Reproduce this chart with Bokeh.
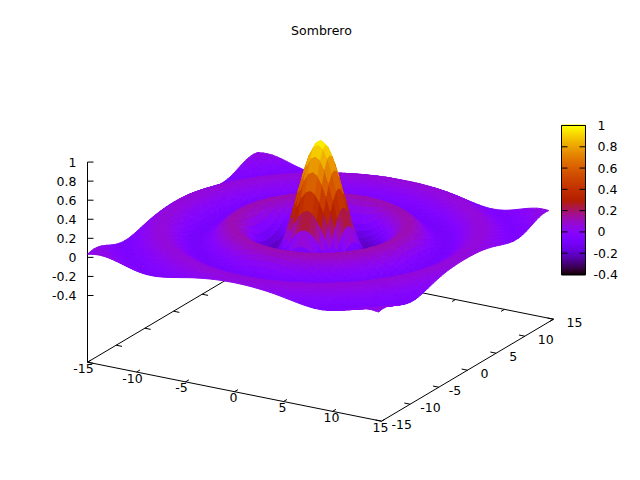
import numpy as np
from bokeh.plotting import figure
from bokeh.embed import file_html
from bokeh.resources import INLINE
from bokeh.core.properties import value

title = "Sombrero"
x_ticks = [-15, -10, -5, 0, 5, 10, 15]
y_ticks = [-15, -10, -5, 0, 5, 10, 15]
z_ticks = [-0.4, -0.2, 0, 0.2, 0.4, 0.6, 0.8, 1]
cb_ticks = [-0.4, -0.2, 0, 0.2, 0.4, 0.6, 0.8, 1]

# Radial height profile of the surface, read along the rings of the picture
profile_r = [0, .25, .5, .75, 1, 1.25, 1.5, 1.75, 2, 2.25, 2.5, 2.75, 3, 3.25, 3.5, 3.75, 4, 4.25, 4.5,
             4.75, 5, 5.25, 5.5, 5.75, 6, 6.25, 6.5, 6.75, 7, 7.25, 7.5, 7.75, 8, 8.5, 9, 9.5, 10,
             10.5, 11, 11.5, 12, 12.5, 13, 13.5, 14, 14.5, 15, 15.5, 16, 16.5, 17, 17.5, 18,
             18.5, 19, 19.5, 20, 20.5, 21, 21.5]
profile_z = [1.0, .990, .959, .909, .841, .759, .665, .562, .455, .347, .239, .139, .047, -.033, -.100,
             -.152, -.189, -.211, -.217, -.210, -.192, -.164, -.128, -.088, -.047, -.005, .033, .067,
             .094, .114, .125, .128, .124, .094, .046, -.008, -.054, -.084, -.091, -.076, -.045, -.005,
             .032, .060, .071, .065, .043, .013, -.018, -.043, -.057, -.056, -.042, -.018, .008, .031,
             .046, .049, .040, .022]

# Sample lines of the surface: it starts at -15 but stops just short of +15
STEP = 0.45
SURF_MIN, SURF_MAX = -15.0, 14.7

W, H = 624, 464
p = figure(width=W, height=H, x_range=(0, 624), y_range=(464, 0), toolbar_location=None,
           output_backend="svg", min_border=0, outline_line_color=None, background_fill_color="white")
p.axis.visible = False
p.grid.visible = False

def project(x, y, z):
    u = (np.asarray(x, float) + 15) / 30
    v = (np.asarray(y, float) + 15) / 30
    return 87 + 294 * u + 172 * v, 361.7 + 59 * u - 102 * v - 95.3 * (np.asarray(z, float) + 1.1)

def palette(z):
    g = np.clip((np.asarray(z, float) + 0.4) / 1.4, 0, 1)
    r, gg, b = np.sqrt(g), g ** 3, np.clip(np.sin(2 * np.pi * g), 0, 1)
    return ["#%02x%02x%02x" % (int(a * 255), int(c * 255), int(d * 255)) for a, c, d in zip(r, gg, b)]

BASE = -1.1
def seg(xs0, ys0, zs0, xs1, ys1, zs1):
    a = project(xs0, ys0, zs0)
    b = project(xs1, ys1, zs1)
    p.segment(a[0], a[1], b[0], b[1], line_color="black", line_width=1)

# base frame
seg([-15, 15, 15, -15], [-15, -15, 15, 15], [BASE] * 4, [15, 15, -15, -15], [-15, 15, 15, -15], [BASE] * 4)
# z axis
seg([-15], [-15], [BASE], [-15], [-15], [1])
tl = 0.6
xt = np.array(x_ticks, float)
yt = np.array(y_ticks, float)
n = len(xt)
seg(xt, [-15] * n, [BASE] * n, xt, [-15 + tl] * n, [BASE] * n)
seg(xt, [15] * n, [BASE] * n, xt, [15 - tl] * n, [BASE] * n)
seg([15] * n, yt, [BASE] * n, [15 - tl] * n, yt, [BASE] * n)
seg([-15] * n, yt, [BASE] * n, [-15 + tl] * n, yt, [BASE] * n)

# surface
neg = -np.arange(STEP, -SURF_MIN, STEP)[::-1]
pos = np.arange(0, SURF_MAX, STEP)
g = np.concatenate(([SURF_MIN], neg, pos, [SURF_MAX]))
N = len(g) - 1
X, Y = np.meshgrid(g, g, indexing="ij")
Z = np.interp(np.hypot(X, Y), profile_r, profile_z)
SX, SY = project(X, Y, Z)
xs, ys, zm, depth = [], [], [], []
for i in range(N):
    for j in range(N):
        idx = [(i, j), (i + 1, j), (i + 1, j + 1), (i, j + 1)]
        xs.append([float(SX[a]) for a in idx])
        ys.append([float(SY[a]) for a in idx])
        m = np.mean([Z[a] for a in idx])
        mx = np.mean([X[a] for a in idx])
        my = np.mean([Y[a] for a in idx])
        zm.append(m)
        depth.append(0.866 * 11.3 * (0.5 * mx - 0.866 * my) + 0.5 * 109.7 * m)
order = np.argsort(depth)
cols = palette(zm)
p.patches([xs[i] for i in order], [ys[i] for i in order],
          fill_color=[cols[i] for i in order], line_color=[cols[i] for i in order], line_width=1)

def label(x, y, t, align):
    p.text(x, y, text=t, text_font=value("DejaVu Sans"), text_font_size=value("12.5px"),
           text_align=align, text_baseline="middle", text_color="black")

# z axis ticks and labels
zt = np.array(z_ticks, float)
zx, zy = project([-15] * len(zt), [-15] * len(zt), zt)
p.segment(zx, zy, zx + 6, zy, line_color="black", line_width=1)
label(zx - 11, zy, ["%g" % v for v in zt], "right")

# x labels
bx, by = project(xt, [-15] * n, [BASE] * n)
label(bx - 1 - 3 * (xt < 0), by + 6, ["%g" % v for v in xt], "center")
# y labels
bx, by = project([15] * n, yt, [BASE] * n)
label(bx + 13 - 3 * (yt < 0), by + 3.5, ["%g" % v for v in yt], "left")

# colour bar
CL, CR, CT, CB = 561, 585, 125, 274
levels = np.linspace(-0.4, 1, 150)
def cby(v):
    return CB - (np.asarray(v, float) + 0.4) / 1.4 * (CB - CT)
cc = palette(levels)
p.quad(left=CL, right=CR, top=cby(levels + 0.0095), bottom=cby(levels - 0.0095), fill_color=cc, line_color=None)
p.quad(left=[CL], right=[CR], top=[CT], bottom=[CB], fill_color=None, line_color="black", line_width=1)
ct = np.array(cb_ticks, float)
ty = cby(ct)
p.segment([CL] * len(ct), ty, [CL + 6] * len(ct), ty, line_color="black", line_width=1)
p.segment([CR] * len(ct), ty, [CR - 6] * len(ct), ty, line_color="black", line_width=1)
label(597 - 4 * (ct < 0), ty, ["%g" % v for v in ct], "left")

label([321], [30], [title], "center")

open("out.html", "w").write(file_html(p, INLINE))
